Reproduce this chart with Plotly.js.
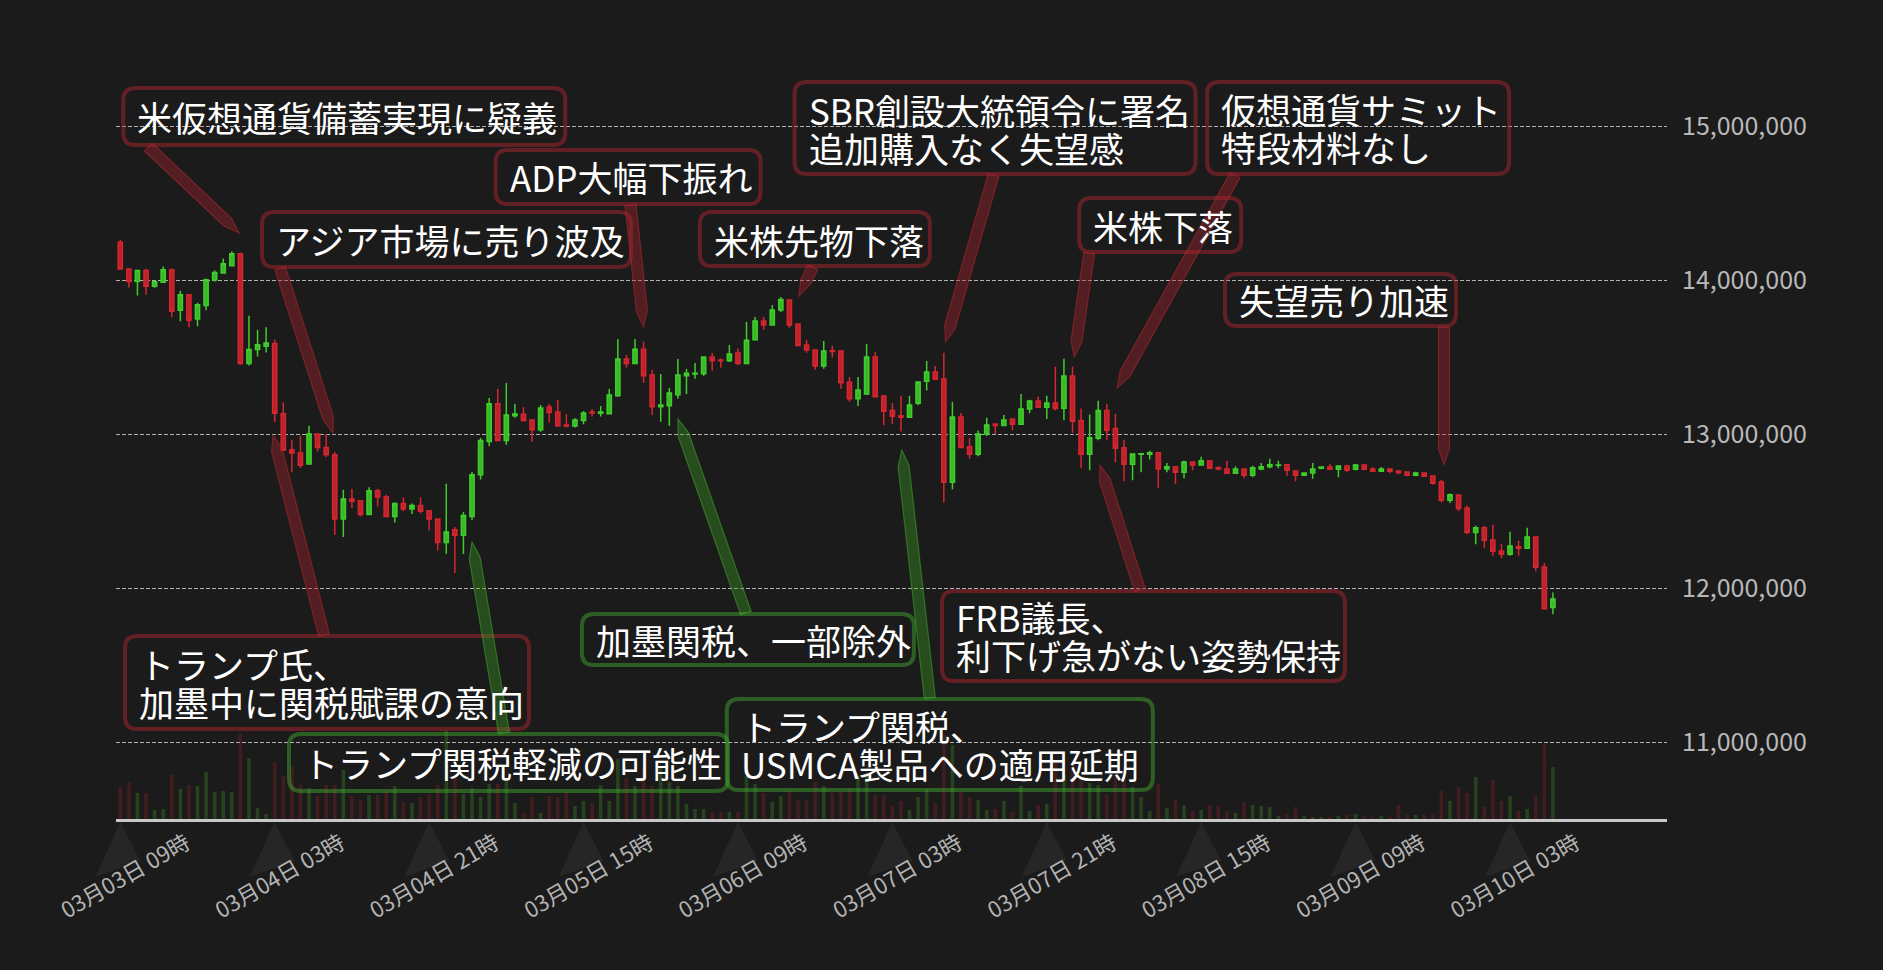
<!DOCTYPE html>
<html><head><meta charset="utf-8">
<script src="https://cdn.plot.ly/plotly-3.0.1.min.js"></script>
<style>html,body{margin:0;padding:0;background:#1b1b1b;}#chart{width:1883px;height:970px;}</style>
</head><body><div id="chart"></div>
<script>
// ---------- data (prices in millions of yen, hourly candles) ----------
const START = '2025-03-03 09:00';
const SCALE = 1e6;
const open = [
 14.245,14.071,13.991,14.061,13.959,13.985,14.067,13.803,13.905,13.747,
 13.835,14.000,14.045,14.093,14.171,13.457,13.548,13.570,13.587,13.132,
 12.898,12.877,12.805,13.000,12.913,12.866,12.448,12.578,12.567,12.478,
 12.632,12.591,12.465,12.548,12.513,12.535,12.502,12.448,12.296,12.379,
 12.342,12.465,12.736,12.952,13.197,12.957,13.119,13.128,13.091,13.028,
 13.175,13.143,13.058,13.052,13.087,13.143,13.134,13.132,13.249,13.487,
 13.457,13.550,13.383,13.177,13.184,13.255,13.379,13.390,13.392,13.500,
 13.481,13.476,13.526,13.457,13.612,13.734,13.708,13.805,13.870,13.714,
 13.578,13.545,13.442,13.541,13.539,13.338,13.229,13.260,13.500,13.247,
 13.152,13.119,13.108,13.199,13.342,13.403,13.357,12.686,13.110,12.918,
 12.868,13.000,13.065,13.056,13.097,13.063,13.162,13.214,13.173,13.201,
 13.167,13.377,13.087,12.868,12.972,13.152,13.035,12.911,12.803,12.868,
 12.868,12.879,12.773,12.788,12.751,12.818,12.799,12.827,12.781,12.773,
 12.745,12.773,12.732,12.773,12.788,12.797,12.801,12.760,12.732,12.747,
 12.777,12.786,12.771,12.792,12.771,12.799,12.773,12.758,12.773,12.760,
 12.753,12.732,12.747,12.727,12.688,12.569,12.604,12.519,12.361,12.392,
 12.312,12.240,12.219,12.268,12.258,12.331,12.136,11.874];
const high = [
 14.262,14.071,14.061,14.074,13.996,14.087,14.074,13.931,13.905,13.853,
 14.009,14.061,14.139,14.186,14.177,13.768,13.677,13.693,13.613,13.206,
 12.963,12.989,13.054,13.000,13.000,12.883,12.638,12.643,12.567,12.654,
 12.645,12.606,12.556,12.589,12.548,12.589,12.502,12.448,12.677,12.396,
 12.494,12.753,12.974,13.234,13.292,13.331,13.195,13.175,13.091,13.188,
 13.195,13.221,13.130,13.104,13.149,13.162,13.182,13.292,13.617,13.513,
 13.617,13.600,13.416,13.390,13.299,13.487,13.422,13.461,13.500,13.526,
 13.491,13.578,13.556,13.727,13.760,13.760,13.838,13.890,13.879,13.714,
 13.610,13.545,13.604,13.571,13.539,13.370,13.370,13.584,13.532,13.253,
 13.201,13.249,13.249,13.338,13.474,13.442,13.528,13.210,13.136,12.974,
 13.022,13.106,13.065,13.123,13.097,13.260,13.223,13.242,13.249,13.437,
 13.489,13.437,13.165,13.126,13.216,13.197,13.132,12.963,12.870,12.872,
 12.892,12.879,12.812,12.788,12.827,12.818,12.853,12.827,12.790,12.827,
 12.790,12.773,12.794,12.812,12.840,12.827,12.807,12.760,12.747,12.812,
 12.788,12.805,12.792,12.801,12.805,12.807,12.786,12.786,12.773,12.760,
 12.753,12.755,12.747,12.727,12.701,12.613,12.604,12.535,12.405,12.405,
 12.411,12.288,12.366,12.307,12.392,12.331,12.162,11.970];
const low = [
 14.071,13.952,13.900,13.905,13.950,13.985,13.758,13.732,13.693,13.700,
 13.803,13.990,14.045,14.087,13.450,13.444,13.504,13.530,13.078,12.894,
 12.751,12.779,12.805,12.887,12.850,12.344,12.331,12.520,12.465,12.478,
 12.530,12.459,12.426,12.498,12.480,12.483,12.374,12.244,12.223,12.097,
 12.221,12.440,12.705,12.920,12.955,12.931,13.106,13.080,12.950,13.015,
 13.074,13.048,13.043,13.043,13.063,13.113,13.113,13.132,13.242,13.431,
 13.457,13.333,13.123,13.080,13.054,13.229,13.260,13.359,13.379,13.411,
 13.431,13.468,13.448,13.457,13.612,13.677,13.703,13.792,13.690,13.574,
 13.528,13.418,13.424,13.496,13.294,13.210,13.182,13.253,13.242,13.058,
 13.065,13.017,13.108,13.186,13.283,13.355,12.556,12.641,12.913,12.840,
 12.855,12.987,13.000,13.050,13.024,13.063,13.134,13.173,13.097,13.152,
 13.089,13.006,12.777,12.764,12.959,12.963,12.816,12.693,12.699,12.751,
 12.835,12.647,12.751,12.675,12.712,12.764,12.799,12.777,12.764,12.745,
 12.745,12.712,12.719,12.764,12.777,12.777,12.725,12.693,12.732,12.710,
 12.771,12.771,12.719,12.751,12.764,12.764,12.758,12.758,12.745,12.738,
 12.725,12.725,12.725,12.671,12.556,12.552,12.498,12.351,12.284,12.258,
 12.210,12.193,12.210,12.210,12.258,12.108,11.859,11.829];
const close = [
 14.071,13.991,14.061,13.959,13.989,14.067,13.797,13.905,13.738,13.840,
 14.002,14.048,14.106,14.171,13.457,13.548,13.580,13.591,13.134,12.894,
 12.877,12.797,13.000,12.913,12.866,12.448,12.578,12.563,12.478,12.632,
 12.591,12.465,12.548,12.513,12.535,12.498,12.448,12.296,12.364,12.342,
 12.470,12.736,12.957,13.197,12.957,13.123,13.130,13.087,13.028,13.169,
 13.139,13.052,13.052,13.091,13.136,13.136,13.143,13.253,13.487,13.457,
 13.550,13.379,13.177,13.188,13.266,13.383,13.394,13.394,13.500,13.476,
 13.476,13.519,13.457,13.608,13.734,13.708,13.805,13.874,13.708,13.574,
 13.545,13.442,13.539,13.535,13.333,13.229,13.286,13.500,13.242,13.147,
 13.115,13.108,13.188,13.338,13.403,13.355,12.686,13.110,12.913,12.868,
 13.000,13.058,13.056,13.091,13.063,13.162,13.214,13.173,13.201,13.165,
 13.377,13.082,12.868,12.976,13.152,13.024,12.907,12.803,12.870,12.872,
 12.879,12.773,12.788,12.751,12.818,12.799,12.827,12.777,12.773,12.745,
 12.773,12.732,12.781,12.788,12.801,12.799,12.764,12.732,12.747,12.773,
 12.786,12.771,12.792,12.764,12.799,12.771,12.758,12.773,12.758,12.749,
 12.732,12.747,12.725,12.680,12.569,12.606,12.517,12.361,12.392,12.310,
 12.238,12.219,12.273,12.258,12.331,12.134,11.866,11.929];
// relative traded volume (unlabelled in the source chart)
const volume = [
 32,37,26,26,9,10,44,30,34,33,
 47,27,28,27,85,61,11,5,57,43,
 52,34,31,23,34,34,49,23,19,24,
 24,28,33,17,16,22,25,34,88,43,
 25,31,22,35,35,40,16,6,22,6,
 23,22,27,13,18,16,34,18,60,41,
 33,52,33,52,37,33,15,10,10,7,
 7,7,7,43,35,26,17,23,28,19,
 19,37,33,26,27,30,43,43,24,24,
 13,18,9,22,30,16,85,74,27,22,
 19,9,10,18,7,33,8,14,15,57,
 45,53,40,36,34,25,42,42,32,22,
 8,35,11,19,14,8,9,14,13,8,
 6,17,14,13,12,3,5,12,3,2,
 2,2,3,4,5,3,2,3,2,14,
 4,4,4,4,28,18,32,26,42,12,
 39,18,23,8,10,23,75,52];
const priceTicks = [11, 12, 13, 14, 15];

// news callouts: tip = (time, price in millions)
const newsText = [
 ['米仮想通貨備蓄実現に疑義'], ['アジア市場に売り波及'], ['ADP大幅下振れ'], ['米株先物下落'],
 ['SBR創設大統領令に署名','追加購入なく失望感'], ['仮想通貨サミット','特段材料なし'], ['米株下落'],
 ['失望売り加速'], ['FRB議長、','利下げ急がない姿勢保持'], ['トランプ氏、','加墨中に関税賦課の意向'],
 ['トランプ関税軽減の可能性'], ['加墨関税、一部除外'], ['トランプ関税、','USMCA製品への適用延期']];
const newsTime = ['2025-03-03 22:52','2025-03-04 09:48','2025-03-05 22:00','2025-03-06 16:06',
 '2025-03-07 09:12','2025-03-08 05:12','2025-03-08 00:12','2025-03-09 19:18','2025-03-08 03:12',
 '2025-03-04 02:48','2025-03-05 02:00','2025-03-06 02:00','2025-03-07 04:06'];
const newsPrice = [14.305,13.006,13.695,13.896,13.597,13.299,13.5,12.799,12.799,12.994,12.299,13.097,12.896];
const newsTone = ['down','down','down','down','down','down','down','down','down','down','up','up','up'];

// ---------- layout helpers (pixel offsets of boxes relative to the arrow tip, y down) ----------
const calloutGeom = [
 {box:[-116,-145,326,-88], tail:[-91,-86]},
 {box:[-71,-221,298,-166], tail:[-53,-165]},
 {box:[-148,-177,117,-123], tail:[-13,-122]},
 {box:[-99,-84,131,-30], tail:[14,-29]},
 {box:[-151,-260,250,-168], tail:[48,-167]},
 {box:[90,-306,392,-214], tail:[118,-213]},
 {box:[5,-159,167,-105], tail:[15,-104]},
 {box:[-219,-191,12,-139], tail:[0,-138]},
 {box:[-158,126,245,216], tail:[40,125]},
 {box:[-148,201,256,294], tail:[51,200]},
 {box:[-183,192,256,249], tail:[32,191]},
 {box:[-96,195,236,246], tail:[68,194]},
 {box:[-175,249,251,340], tail:[28,248]}];
const toneStyle = {
 down:{border:'rgba(175,35,45,0.48)', fill:'rgba(160,35,45,0.42)', edge:'rgba(185,40,50,0.5)'},
 up:{border:'rgba(65,170,45,0.48)', fill:'rgba(60,160,40,0.38)', edge:'rgba(70,180,45,0.48)'}};

function toMs(s){const [d,t]=s.split(' ');const [Y,M,D]=d.split('-').map(Number);const [h,m]=t.split(':').map(Number);return Date.UTC(Y,M-1,D,h,m);}
function fmt(ms){const d=new Date(ms);const p=n=>String(n).padStart(2,'0');return d.getUTCFullYear()+'-'+p(d.getUTCMonth()+1)+'-'+p(d.getUTCDate())+' '+p(d.getUTCHours())+':'+p(d.getUTCMinutes());}
const HOUR = 3600000;
const times = open.map((_, i) => fmt(toMs(START) + i*HOUR));
const xRange = [fmt(toMs(START) - HOUR/2), '2025-03-10 21:18'];
const tickTimes = times.filter((_, i) => i % 18 === 0);

const volColors = open.map((o,i) => close[i] >= o ? 'rgba(80,180,40,0.25)' : 'rgba(200,35,45,0.22)');

const traces = [
 {type:'bar', x: times, y: volume, yaxis:'y', marker:{color: volColors, line:{width:0}},
  width: 0.42*HOUR, hoverinfo:'skip'},
 {type:'candlestick', x: times, open: open.map(v=>v*SCALE), high: high.map(v=>v*SCALE),
  low: low.map(v=>v*SCALE), close: close.map(v=>v*SCALE), yaxis:'y2', whiskerwidth:0,
  increasing:{line:{color:'#40cc2c', width:1.5}, fillcolor:'#38b826'},
  decreasing:{line:{color:'#d4262f', width:1.5}, fillcolor:'#bc222b'}}
];

function rr(x0,yT,x1,yB,r){
 const Y=v=>-v;
 return `M${x0+r},${Y(yT)} L${x1-r},${Y(yT)} Q${x1},${Y(yT)} ${x1},${Y(yT+r)} L${x1},${Y(yB-r)} Q${x1},${Y(yB)} ${x1-r},${Y(yB)} L${x0+r},${Y(yB)} Q${x0},${Y(yB)} ${x0},${Y(yB-r)} L${x0},${Y(yT+r)} Q${x0},${Y(yT)} ${x0+r},${Y(yT)} Z`;
}
// tapered arrow band from tail to tip (tip at 0,0), pixel units, y up
function arrowPath(tx, ty, w, taper){
 const X = tx, Yv = -ty, len = Math.hypot(X, Yv);
 const ux = X/len, uy = Yv/len, nx = -uy, ny = ux, h = w/2;
 const p = (x,y) => `${x.toFixed(1)},${y.toFixed(1)}`;
 return `M${p(X+nx*h, Yv+ny*h)} L${p(ux*taper+nx*h, uy*taper+ny*h)} L0,0 L${p(ux*taper-nx*h, uy*taper-ny*h)} L${p(X-nx*h, Yv-ny*h)} Z`;
}

const shapes = [];
const annotations = [];
// tick pointers below the axis
const r0 = toMs(xRange[0]), r1 = toMs(xRange[1]);
tickTimes.forEach(t => {
 shapes.push({type:'path', xref:'x domain', yref:'paper', xsizemode:'pixel', ysizemode:'pixel',
  xanchor:(toMs(t)-r0)/(r1-r0), yanchor:0, path:'M0,-3 L-25,-58 L20,-42 Z',
  fillcolor:'rgba(255,255,255,0.05)', line:{width:0}, layer:'below'});
});
newsText.forEach((lines, k) => {
 const g = calloutGeom[k], st = toneStyle[newsTone[k]];
 const x = newsTime[k], y = newsPrice[k]*SCALE;
 const [bx0,by0,bx1,by1] = g.box;
 shapes.push({type:'path', xref:'x', yref:'y2', xsizemode:'pixel', ysizemode:'pixel',
  xanchor:x, yanchor:y, path: arrowPath(g.tail[0], g.tail[1], 11, 16),
  fillcolor:st.fill, line:{color:st.edge, width:1.2}, layer:'above'});
 shapes.push({type:'path', xref:'x', yref:'y2', xsizemode:'pixel', ysizemode:'pixel',
  xanchor:x, yanchor:y, path: rr(bx0,by0,bx1,by1,12), line:{color:st.border, width:4},
  fillcolor:'rgba(0,0,0,0)', layer:'above'});
 const cy = (by0+by1)/2, n = lines.length, lh = 38;
 lines.forEach((txt, j) => {
  const ly = cy + (j - (n-1)/2)*lh;
  annotations.push({x, y, xref:'x', yref:'y2', text:txt, showarrow:false,
   xanchor:'left', yanchor:'middle', xshift: bx0+12, yshift: -ly,
   font:{size:35, color:'#ffffff', family:'Noto Sans CJK JP'}});
 });
});

const layout = {
 width:1883, height:970, paper_bgcolor:'#1b1b1b', plot_bgcolor:'#1b1b1b',
 margin:{l:116, r:216, t:49, b:151}, showlegend:false, hovermode:false,
 font:{family:'Noto Sans CJK JP', color:'#b4b4b4'},
 xaxis:{type:'date', range:xRange, rangeslider:{visible:false}, showgrid:false, zeroline:false,
  showline:true, linecolor:'#c8c8c8', linewidth:3, ticks:'',
  tickmode:'array', tickvals:tickTimes, tickformat:'%m月%d日 %H時', tickangle:-30, ticklabelshift:66,
  tickfont:{size:22, color:'#b4b4b4'}},
 yaxis:{range:[0,770], visible:false, showgrid:false, fixedrange:true},
 yaxis2:{overlaying:'y', side:'right', range:[10.5*SCALE, 15.5*SCALE],
  tickvals: priceTicks.map(v=>v*SCALE), tickformat:',d', showgrid:true,
  gridcolor:'rgba(205,205,205,0.85)', gridwidth:1, griddash:'4px,2px', zeroline:false,
  showline:false, ticks:'', ticklabelstandoff:14, tickfont:{size:25, color:'#b8b8b8'}},
 shapes, annotations
};
Plotly.newPlot('chart', traces, layout, {staticPlot:true, displayModeBar:false});
</script></body></html>
